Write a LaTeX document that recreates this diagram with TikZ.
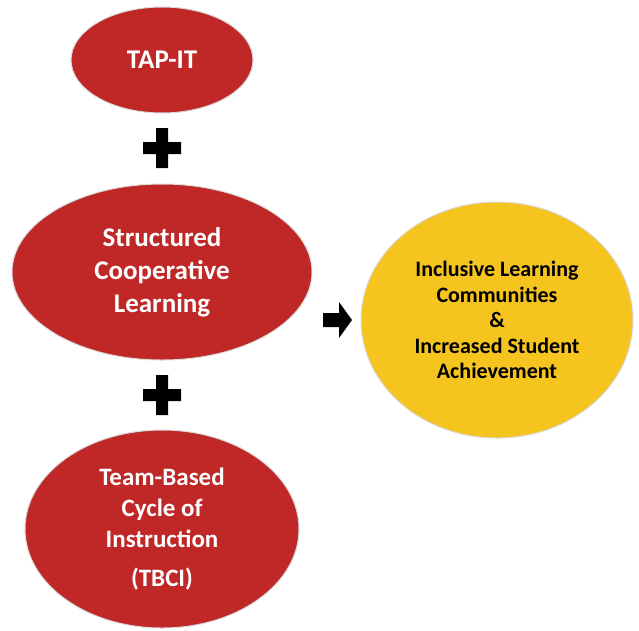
\documentclass[tikz,border=0pt]{standalone}
\usepackage{fontspec}
\setmainfont{Carlito}
\usetikzlibrary{shapes.geometric}
\definecolor{tapred}{RGB}{192,39,39}
\definecolor{goalyellow}{RGB}{245,196,30}
\begin{document}
\begin{tikzpicture}[
        x=1pt, y=-1pt,
        every node/.style={ellipse, draw=black!15, line width=1pt, inner sep=0pt, align=center, font=\bfseries},
        redball/.style={fill=tapred, text=white},
        goalball/.style={fill=goalyellow, text=black, font=\bfseries\fontsize{22}{25.5}\selectfont},
        sign/.style={fill=black},
    ]
    \useasboundingbox (0,0) rectangle (639,630);

    \node[redball, minimum width=182pt, minimum height=106pt, font=\bfseries\fontsize{27}{33}\selectfont](tap) at (162,60) {TAP-IT};
    \node[redball, minimum width=300pt, minimum height=176pt, font=\bfseries\fontsize{27}{33}\selectfont](scl) at (162,272) {Structured\\Cooperative\\Learning};
    \node[redball, minimum width=274pt, minimum height=198pt, font=\bfseries\fontsize{25}{31}\selectfont](tbci) at (162,529) {Team-Based\\Cycle of\\Instruction\\[8pt](TBCI)};
    \node[goalball, minimum width=272pt, minimum height=236pt](goal) at (497,320) {Inclusive Learning\\Communities\\\&\\Increased Student\\Achievement};

    \fill[sign] (143,142) rectangle (181,154) (156,128) rectangle (168,168);
    \fill[sign] (143,389) rectangle (181,401) (156,375) rectangle (168,415);
    \fill[sign] (323,313) -- (339,313) -- (339,302) -- (352,320) -- (339,338) -- (339,327) -- (323,327) -- cycle;
\end{tikzpicture}
\end{document}
